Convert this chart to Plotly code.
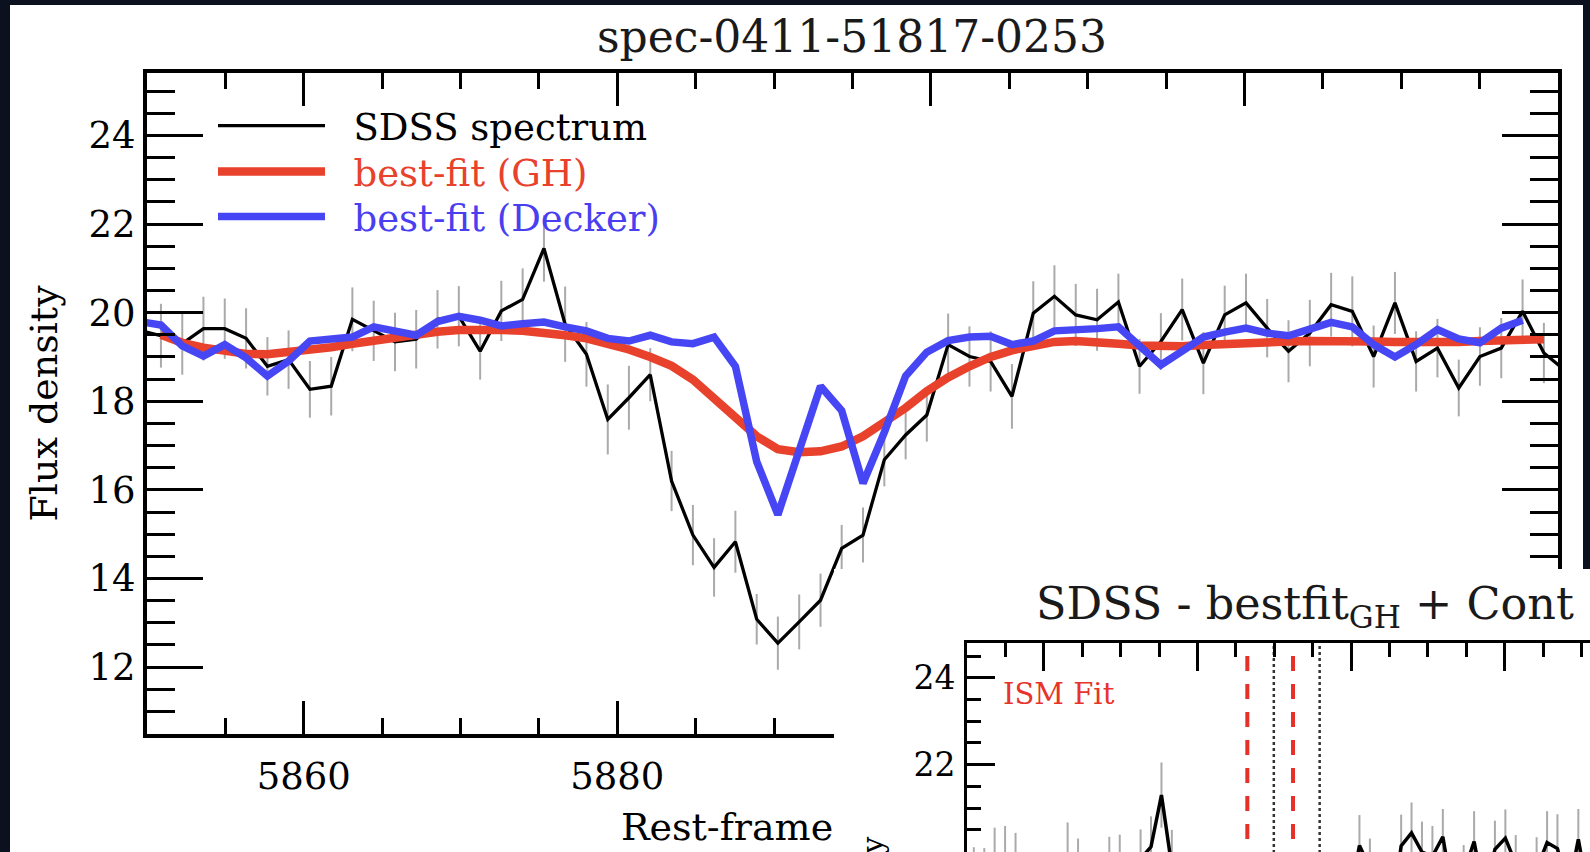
import plotly.graph_objects as go

W, H = 1590, 852
FONT = "DejaVu Serif"

# ---------------- data ----------------
wave = [5849.53, 5850.89, 5852.25, 5853.60, 5854.96, 5856.32, 5857.68, 5859.03,
        5860.39, 5861.75, 5863.10, 5864.46, 5865.82, 5867.17, 5868.53, 5869.89,
        5871.25, 5872.60, 5873.96, 5875.32, 5876.67, 5878.03, 5879.39, 5880.74,
        5882.10, 5883.46, 5884.82, 5886.17, 5887.53, 5888.89, 5890.24, 5891.60,
        5892.96, 5894.31, 5895.67, 5897.03, 5898.39, 5899.74, 5901.10, 5902.46,
        5903.81, 5905.17, 5906.53, 5907.88, 5909.24, 5910.60, 5911.96, 5913.31,
        5914.67, 5916.03, 5917.38, 5918.74, 5920.10, 5921.45, 5922.81, 5924.17,
        5925.53, 5926.88, 5928.24, 5929.60, 5930.95, 5932.31, 5933.67, 5935.02,
        5936.38, 5937.74, 5939.10, 5940.45]

flux = [19.60, 19.48, 19.30, 19.64, 19.64, 19.42, 18.79, 18.94,
        18.27, 18.34, 19.85, 19.59, 19.34, 19.40, 19.85, 19.92,
        19.13, 20.04, 20.30, 21.45, 19.74, 19.06, 17.59, 18.08,
        18.60, 16.20, 14.98, 14.25, 14.83, 13.08, 12.54, 13.02,
        13.51, 14.68, 14.98, 16.68, 17.24, 17.69, 19.28, 19.01,
        18.90, 18.11, 19.99, 20.37, 19.95, 19.84, 20.24, 18.79,
        19.35, 20.07, 18.86, 19.95, 20.22, 19.65, 19.13, 19.54,
        20.18, 20.03, 19.01, 20.22, 18.90, 19.20, 18.30, 19.01,
        19.20, 20.03, 19.09, 18.70]

flux_err = [0.72, 0.72, 0.70, 0.72, 0.68, 0.68, 0.66, 0.66,
            0.64, 0.66, 0.72, 0.68, 0.66, 0.66, 0.66, 0.68,
            0.64, 0.68, 0.70, 0.75, 0.85, 0.73, 0.79, 0.72,
            0.60, 0.68, 0.68, 0.66, 0.70, 0.57, 0.60, 0.62,
            0.60, 0.53, 0.62, 0.60, 0.55, 0.60, 0.70, 0.68,
            0.68, 0.73, 0.72, 0.70, 0.70, 0.70, 0.64, 0.62,
            0.64, 0.70, 0.70, 0.66, 0.66, 0.66, 0.70, 0.75,
            0.72, 0.79, 0.70, 0.70, 0.68, 0.66, 0.64, 0.66,
            0.68, 0.72, 0.68, 0.68]

gh_fit = [None, 19.50, 19.32, 19.21, 19.13, 19.07, 19.06, 19.10,
          19.15, 19.22, 19.30, 19.37, 19.45, 19.51, 19.57, 19.61,
          19.62, 19.61, 19.59, 19.55, 19.49, 19.42, 19.31, 19.17,
          19.00, 18.80, 18.49, 18.08, 17.62, 17.21, 16.92, 16.85,
          16.87, 16.98, 17.21, 17.51, 17.85, 18.23, 18.54, 18.79,
          19.00, 19.15, 19.26, 19.34, 19.36, 19.35, 19.30, 19.26,
          19.24, 19.24, 19.27, 19.30, 19.31, 19.33, 19.35, 19.36,
          19.37, 19.36, 19.35, 19.34, 19.33, 19.33, 19.34, 19.36,
          19.38, 19.40, 19.40, None]

decker_fit = [19.80, 19.72, 19.25, 19.02, 19.28, 18.98, 18.57, 18.91,
              19.36, 19.40, 19.45, 19.68, 19.59, 19.49, 19.80, 19.92,
              19.83, 19.70, 19.75, 19.79, 19.68, 19.59, 19.42, 19.36,
              19.49, 19.34, 19.30, 19.45, 18.79, 16.64, 15.44, 16.87,
              18.34, 17.79, 16.15, 17.30, 18.57, 19.11, 19.37, 19.45,
              19.47, 19.28, 19.36, 19.59, 19.60, 19.64, 19.68, 19.24,
              18.82, 19.13, 19.45, 19.56, 19.65, 19.54, 19.48, 19.63,
              19.78, 19.68, 19.28, 19.00, 19.28, 19.62, 19.41, 19.32,
              19.65, 19.83, None, None]

cont_level = 19.4                 # continuum level added back in the inset
ism_lines = [5886.50, 5892.45]    # ISM fit (red dashed)
nad_lines = [5889.95, 5895.92]    # Na D rest wavelengths (dotted)

x_tickvals = [5860, 5880, 5900, 5920, 5940]
x_ticktext = ["5860", "5880", "", "", ""]   # the others lie under the inset

main_title = "spec-0411-51817-0253"
inset_title = "SDSS - bestfit<sub>GH</sub> + Cont"
x_title = "Rest-frame"
y_title = "Flux density"

resid = [f - g + cont_level if g is not None else None for f, g in zip(flux, gh_fit)]

# ---------------- helpers (pixel -> paper) ----------------
def px(x):
    return x / W

def py(y):
    return 1 - y / H

RED = "#e8412c"
BLUE = "#4646f4"
GRAY = "#aaaaaa"
NB = "\u00a0"

fig = go.Figure()

# main panel traces
fig.add_trace(go.Scatter(
    x=wave, y=flux, mode="lines", name=NB * 2 + "SDSS spectrum",
    line=dict(color="black", width=3.3),
    error_y=dict(type="data", array=flux_err, color=GRAY, thickness=2, width=0),
    legend="legend", xaxis="x", yaxis="y"))
fig.add_trace(go.Scatter(
    x=wave, y=gh_fit, mode="lines", name=NB * 2 + "best-fit (GH)",
    line=dict(color=RED, width=8.5), legend="legend2", xaxis="x", yaxis="y"))
fig.add_trace(go.Scatter(
    x=wave, y=decker_fit, mode="lines", name=NB * 2 + "best-fit (Decker)",
    line=dict(color=BLUE, width=7.5), legend="legend3", xaxis="x", yaxis="y"))

# cover panel for the inset (empty subplot with white background)
fig.add_trace(go.Scatter(x=[0.5], y=[0.5], mode="markers", marker=dict(opacity=0),
                         showlegend=False, hoverinfo="skip", xaxis="x2", yaxis="y2"))

# inset traces
fig.add_trace(go.Scatter(
    x=wave, y=resid, mode="lines", showlegend=False,
    line=dict(color="black", width=3.5),
    error_y=dict(type="data", array=flux_err, color=GRAY, thickness=2, width=0),
    xaxis="x3", yaxis="y3"))
for lam in ism_lines:
    fig.add_trace(go.Scatter(x=[lam, lam], y=[19.0, 24.8], mode="lines", showlegend=False,
                             line=dict(color="#e8302a", width=4, dash="15px,13px"),
                             xaxis="x3", yaxis="y3"))
for lam in nad_lines:
    fig.add_trace(go.Scatter(x=[lam, lam], y=[19.0, 24.8], mode="lines", showlegend=False,
                             line=dict(color="#333333", width=2.5, dash="dot"),
                             xaxis="x3", yaxis="y3"))

tickfont = dict(family=FONT, size=37, color="black")

main_x = dict(domain=[px(147), px(1558)], range=[5850, 5940], anchor="y",
              showline=True, linewidth=4, linecolor="black", mirror="ticks",
              ticks="inside", ticklen=33, tickwidth=3, tickcolor="black",
              tickmode="array", tickvals=x_tickvals, ticktext=x_ticktext,
              tickfont=tickfont, ticklabelstandoff=7,
              minor=dict(dtick=5, tick0=5850, ticklen=16, tickwidth=3, ticks="inside",
                         tickcolor="black"),
              showgrid=False, zeroline=False)
main_y = dict(domain=[py(734), py(73)], range=[10.49, 25.41], anchor="x",
              showline=True, linewidth=4, linecolor="black", mirror="ticks",
              ticks="inside", ticklen=56, tickwidth=3, tickcolor="black",
              dtick=2, tick0=0, tickfont=tickfont, ticklabelstandoff=0,
              minor=dict(dtick=0.5, ticklen=28, tickwidth=3, ticks="inside", tickcolor="black"),
              showgrid=False, zeroline=False,
              title=dict(text=y_title, font=dict(family=FONT, size=38, color="black"),
                         standoff=20))

cover_x = dict(domain=[px(834), 1], range=[0, 1], anchor="y2", showline=False,
               showticklabels=False, ticks="", showgrid=False, zeroline=False)
cover_y = dict(domain=[0, py(569)], range=[0, 1], anchor="x2", showline=False,
               showticklabels=False, ticks="", showgrid=False, zeroline=False)

inset_x = dict(domain=[px(967), 1], range=[5850, 5931.12], anchor="y3", side="top",
               showline=True, linewidth=3, linecolor="black", mirror=False,
               ticks="inside", ticklen=28, tickwidth=2.5, tickcolor="black",
               dtick=20, tick0=0, showticklabels=False,
               minor=dict(dtick=5, ticklen=14, tickwidth=2.5, ticks="inside", tickcolor="black"),
               showgrid=False, zeroline=False)
inset_y = dict(domain=[0, py(643)], range=[19.99, 24.80], anchor="x3",
               showline=True, linewidth=3, linecolor="black", mirror=False,
               ticks="inside", ticklen=28, tickwidth=2.5, tickcolor="black",
               dtick=2, tick0=0, tickfont=dict(family=FONT, size=33, color="black"),
               ticklabelstandoff=2,
               minor=dict(dtick=0.5, ticklen=14, tickwidth=2.5, ticks="inside", tickcolor="black"),
               showgrid=False, zeroline=False)

def leg(ycenter, color):
    return dict(x=px(213), y=py(ycenter - 32), xanchor="left", yanchor="top",
                bgcolor="rgba(0,0,0,0)", borderwidth=0, itemwidth=107,
                font=dict(family=FONT, size=37, color=color))

fig.update_layout(
    width=W, height=H,
    margin=dict(l=0, r=0, t=0, b=0),
    paper_bgcolor="#0b111e", plot_bgcolor="white",
    showlegend=True,
    title=dict(text=main_title, x=px(852), xanchor="center", xref="paper",
               y=py(37), yanchor="middle", yref="container",
               font=dict(family=FONT, size=44, color="#1a1a1a")),
    xaxis=main_x, yaxis=main_y,
    xaxis2=cover_x, yaxis2=cover_y,
    xaxis3=inset_x, yaxis3=inset_y,
    legend=leg(127, "black"),
    legend2=leg(173, RED),
    legend3=leg(218, "#4a3ff0"),
    shapes=[dict(type="rect", xref="paper", yref="paper", layer="below",
                 x0=px(10), x1=px(1583), y0=0, y1=py(5),
                 fillcolor="white", line=dict(width=0))],
    annotations=[
        # visible part of the main x-axis title (the rest lies under the inset)
        dict(text=x_title, xref="paper", yref="paper", x=px(619), y=py(827),
             xanchor="left", yanchor="middle", showarrow=False,
             font=dict(family=FONT, size=38, color="black")),
        dict(text=inset_title, xref="paper", yref="paper", x=px(1034), y=py(606),
             xanchor="left", yanchor="middle", showarrow=False,
             font=dict(family=FONT, size=44.5, color="#1a1a1a")),
        dict(text="ISM Fit", xref="paper", yref="paper", x=px(1001), y=py(694),
             xanchor="left", yanchor="middle", showarrow=False,
             font=dict(family=FONT, size=29, color="#e8332a")),
        dict(text=y_title, xref="paper", yref="paper", x=px(872), y=py(930),
             xanchor="center", yanchor="middle", textangle=-90, showarrow=False,
             font=dict(family=FONT, size=30, color="black")),
    ],
)

fig.write_html("out.html")
